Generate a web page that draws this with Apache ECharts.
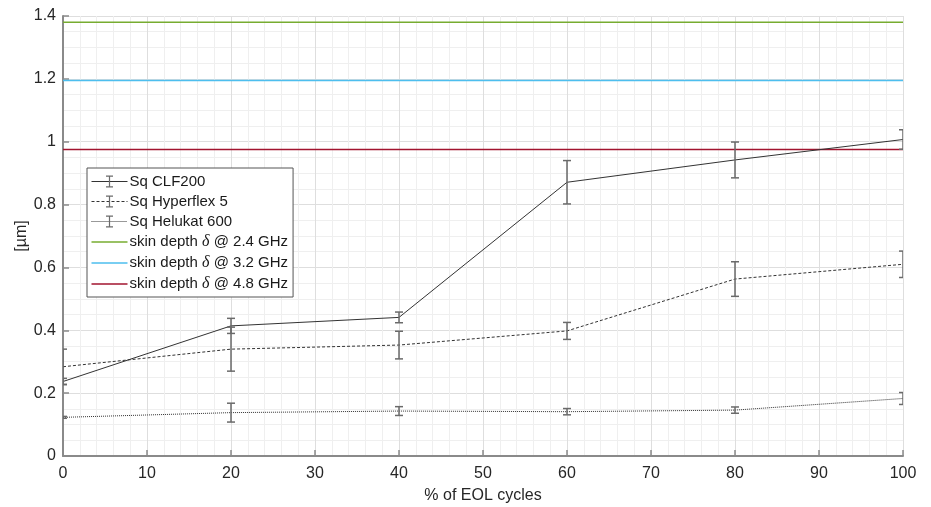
<!DOCTYPE html>
<html>
<head>
<meta charset="utf-8">
<script src="https://cdn.jsdelivr.net/npm/echarts@6/dist/echarts.min.js"></script>
<style>
  html, body { margin: 0; padding: 0; background: #fff; }
  #main { width: 931px; height: 507px; }
</style>
</head>
<body>
<div id="main"></div>
<script>
// werte
var cycles = [0, 20, 40, 60, 80, 100];

var clf200 = [0.237, 0.414, 0.441, 0.871, 0.942, 1.007];
var clf200Err = [0.010, 0.024, 0.017, 0.069, 0.057, 0.031];

var hyperflex = [0.284, 0.340, 0.353, 0.398, 0.563, 0.610];
var hyperflexErr = [0.056, 0.070, 0.044, 0.027, 0.055, 0.042];

var helukat = [0.123, 0.138, 0.143, 0.141, 0.146, 0.183];
var helukatErr = [0.003, 0.030, 0.014, 0.010, 0.010, 0.019];

var skinNames = ['skin depth δ @ 2.4 GHz', 'skin depth δ @ 3.2 GHz', 'skin depth δ @ 4.8 GHz'];
var skinDepth = [1.38, 1.195, 0.975];
var skinColors = ['#77AC30', '#4DBEEE', '#A2142F'];
var xRange = [0, 100];

var lineCol = '#333333';
var errCol = '#6a6a6a';
// I-Balken fuer die Legende (mit quadratischer bbox)
var ibeam = 'path://M0,0M12,12M2.5,0H9.5V1.2H6.6V10.8H9.5V12H2.5V10.8H5.4V1.2H2.5Z';

function pairs(ys) {
    return cycles.map(function (x, i) { return [x, ys[i]]; });
}
function errData(ys, es) {
    return cycles.map(function (x, i) { return [x, ys[i] - es[i], ys[i] + es[i]]; });
}

function renderErr(params, api) {
    var x = api.value(0);
    var lo = api.coord([x, api.value(1)]);
    var hi = api.coord([x, api.value(2)]);
    var w = 4;
    var st = { stroke: errCol, lineWidth: 1.5, fill: null };
    return {
        type: 'group',
        children: [
            { type: 'line', shape: { x1: lo[0], y1: lo[1], x2: hi[0], y2: hi[1] }, style: st },
            { type: 'line', shape: { x1: lo[0] - w, y1: lo[1], x2: lo[0] + w, y2: lo[1] }, style: st },
            { type: 'line', shape: { x1: hi[0] - w, y1: hi[1], x2: hi[0] + w, y2: hi[1] }, style: st }
        ]
    };
}

function dataSeries(name, ys, dash) {
    return {
        name: name,
        type: 'line',
        data: pairs(ys),
        symbol: ibeam,
        showSymbol: false,
        silent: true,
        itemStyle: { color: errCol },
        lineStyle: { color: lineCol, width: 1, type: dash },
        z: 4
    };
}
function errSeries(name, ys, es) {
    return {
        name: name + ' err',
        type: 'custom',
        data: errData(ys, es),
        renderItem: renderErr,
        clip: true,
        silent: true,
        encode: { x: 0, y: [1, 2] },
        z: 5
    };
}

var series = [
    dataSeries('Sq CLF200', clf200, 'solid'),
    dataSeries('Sq Hyperflex 5', hyperflex, [3, 2]),
    dataSeries('Sq Helukat 600', helukat, [1, 1])
];
skinNames.forEach(function (n, i) {
    series.push({
        name: n,
        type: 'line',
        data: xRange.map(function (x) { return [x, skinDepth[i]]; }),
        symbol: 'none',
        silent: true,
        itemStyle: { color: skinColors[i] },
        lineStyle: { color: skinColors[i], width: 1.5 },
        z: 3
    });
});
series.push(errSeries('Sq CLF200', clf200, clf200Err));
series.push(errSeries('Sq Hyperflex 5', hyperflex, hyperflexErr));
series.push(errSeries('Sq Helukat 600', helukat, helukatErr));

var legendData = ['Sq CLF200', 'Sq Hyperflex 5', 'Sq Helukat 600'];
skinNames.forEach(function (n, i) {
    legendData.push({ name: n, icon: 'path://M0,0H36V1.6H0Z', itemStyle: { color: skinColors[i] } });
});

var font = 'Liberation Sans, Arial, Helvetica, sans-serif';
var chart = echarts.init(document.getElementById('main'));
chart.setOption({
    animation: false,
    backgroundColor: '#fff',
    grid: { left: 63, right: 28, top: 16, bottom: 51, outerBoundsMode: 'none' },
    legend: {
        data: legendData,
        orient: 'vertical',
        left: 87,
        top: 168,
        padding: [6, 5, 5, 4],
        itemWidth: 36,
        itemHeight: 15,
        itemGap: 5,
        backgroundColor: '#fff',
        borderColor: '#555',
        borderWidth: 1,
        borderRadius: 0,
        selectedMode: false,
        lineStyle: { width: 1 },
        formatter: function (name) { return name.replace('δ', '{i|δ}'); },
        textStyle: {
            fontFamily: font, fontSize: 15, color: '#1a1a1a', padding: [0, 0, 0, -3],
            rich: { i: { fontFamily: 'Liberation Serif', fontStyle: 'italic', fontSize: 16, color: '#1a1a1a' } }
        }
    },
    xAxis: {
        type: 'value',
        min: 0, max: 100, interval: 10,
        name: '% of EOL cycles',
        nameLocation: 'middle',
        nameGap: 32,
        nameTextStyle: { fontFamily: font, fontSize: 16, color: '#262626' },
        axisLine: { lineStyle: { color: '#8a8a8a', width: 2 } },
        axisTick: { inside: true, length: 6, lineStyle: { color: '#8a8a8a', width: 1.5 } },
        axisLabel: { fontFamily: font, fontSize: 16, color: '#262626', margin: 10 },
        splitLine: { lineStyle: { color: '#dedede', width: 1 } },
        minorTick: { show: false, splitNumber: 5 },
        minorSplitLine: { show: true, lineStyle: { color: '#efefef', width: 1 } }
    },
    yAxis: {
        type: 'value',
        min: 0, max: 1.4, interval: 0.2,
        name: '[µm]',
        nameLocation: 'middle',
        nameGap: 33,
        nameMoveOverlap: false,
        nameTextStyle: { fontFamily: font, fontSize: 16, color: '#262626' },
        axisLine: { show: true, lineStyle: { color: '#8a8a8a', width: 2 } },
        axisTick: { show: true, inside: true, length: 6, lineStyle: { color: '#8a8a8a', width: 1.5 } },
        axisLabel: {
            fontFamily: font, fontSize: 16, color: '#262626', margin: 7,
            formatter: function (v) { return String(Math.round(v * 10) / 10); }
        },
        splitLine: { lineStyle: { color: '#dedede', width: 1 } },
        minorTick: { show: false, splitNumber: 4 },
        minorSplitLine: { show: true, lineStyle: { color: '#efefef', width: 1 } }
    },
    series: series
});
</script>
</body>
</html>
